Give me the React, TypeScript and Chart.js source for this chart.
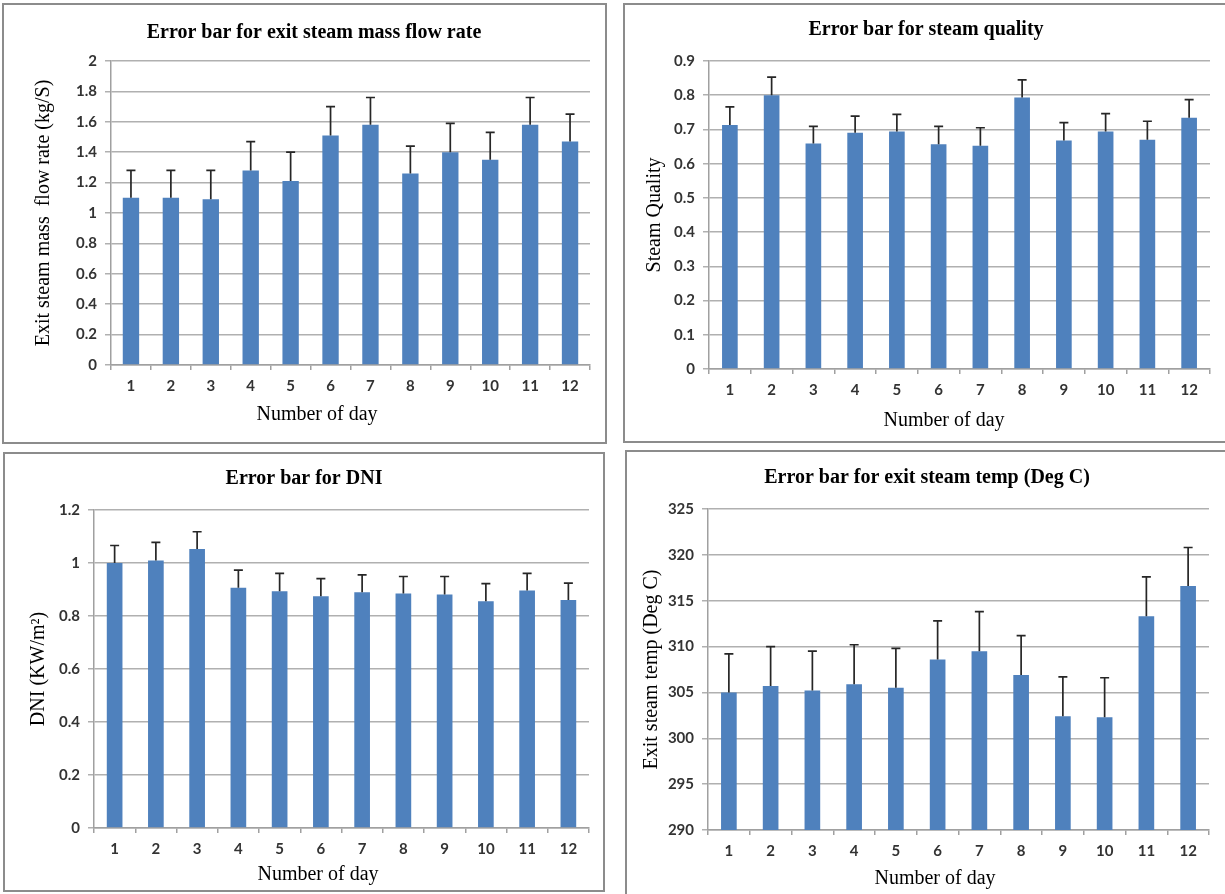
import React, { useEffect, useRef } from "react";
import { Chart, registerables } from "chart.js";

Chart.register(...registerables);

// ---- data -------------------------------------------------------------
const days = ["1", "2", "3", "4", "5", "6", "7", "8", "9", "10", "11", "12"];

const massFlowRate = [1.1, 1.1, 1.09, 1.28, 1.21, 1.51, 1.58, 1.26, 1.4, 1.35, 1.58, 1.47];
const massFlowRateErr = [0.18, 0.18, 0.19, 0.19, 0.19, 0.19, 0.18, 0.18, 0.19, 0.18, 0.18, 0.18];

const steamQuality = [0.713, 0.8, 0.659, 0.69, 0.694, 0.657, 0.652, 0.793, 0.668, 0.694, 0.67, 0.734];
const steamQualityErr = [0.053, 0.053, 0.05, 0.049, 0.05, 0.052, 0.053, 0.052, 0.052, 0.052, 0.054, 0.053];

const dni = [1.0, 1.009, 1.053, 0.907, 0.893, 0.875, 0.89, 0.885, 0.881, 0.856, 0.896, 0.86];
const dniErr = [0.066, 0.069, 0.065, 0.066, 0.068, 0.066, 0.065, 0.064, 0.068, 0.066, 0.065, 0.064];

const exitTemp = [305.0, 305.7, 305.2, 305.9, 305.5, 308.6, 309.5, 306.9, 302.4, 302.3, 313.3, 316.6];
const exitTempErr = [4.2, 4.3, 4.3, 4.3, 4.3, 4.2, 4.3, 4.3, 4.3, 4.3, 4.3, 4.2];

// ---- styling ----------------------------------------------------------
const SERIF = "'Liberation Serif', 'Times New Roman', serif";
const SANS = "Lato, 'Liberation Sans', sans-serif";
const BAR_COLOR = "#4F81BD";
const GRID_COLOR = "#b0b0b0";
const AXIS_COLOR = "#a0a0a0";
const TICK_COLOR = "#333333";

const BORDER = 2;
const LINE_H = 1.2;
const TITLE_SIZE = 20;
const AXIS_TITLE_SIZE = 20;
const TICK_SIZE = 15;

// Draws the upper error whisker with a cap on every bar.
const errorBarsPlugin = {
  id: "errorBars",
  afterDatasetsDraw(chart: any, _args: any, opts: any) {
    const errs: number[] = opts && opts.errors;
    if (!errs) return;
    const meta = chart.getDatasetMeta(0);
    const yScale = chart.scales.y;
    const values = chart.data.datasets[0].data as number[];
    const ctx: CanvasRenderingContext2D = chart.ctx;
    ctx.save();
    ctx.strokeStyle = opts.color || "#262626";
    ctx.lineWidth = opts.lineWidth || 1.5;
    const cap = opts.cap || 4.5;
    meta.data.forEach((bar: any, i: number) => {
      const x = bar.x;
      const yBase = yScale.getPixelForValue(values[i]);
      const yTop = yScale.getPixelForValue(values[i] + errs[i]);
      ctx.beginPath();
      ctx.moveTo(x, yBase);
      ctx.lineTo(x, yTop);
      ctx.moveTo(x - cap, yTop);
      ctx.lineTo(x + cap, yTop);
      ctx.stroke();
    });
    ctx.restore();
  },
};

// Category-axis caption placed under the tick labels.
const axisCaptionPlugin = {
  id: "axisCaption",
  afterDraw(chart: any, _args: any, opts: any) {
    if (!opts || !opts.text) return;
    const ctx: CanvasRenderingContext2D = chart.ctx;
    ctx.save();
    ctx.font = `${opts.size || AXIS_TITLE_SIZE}px ${SERIF}`;
    ctx.fillStyle = "#000";
    ctx.textAlign = "center";
    ctx.textBaseline = "middle";
    ctx.fillText(opts.text, opts.x, opts.y);
    ctx.restore();
  },
};

type Panel = {
  title: string;
  yTitle: string;
  values: number[];
  errors: number[];
  yMin: number;
  yMax: number;
  yStep: number;
  // frame box on the page
  left: number;
  top: number;
  width: number;
  height: number;
  // plot area on the page
  plotLeft: number;
  plotRight: number;
  plotTop: number;
  plotBottom: number;
  titleX: number;
  titleY: number;
  yTitleX: number;
  captionX: number;
  captionY: number;
  barPct: number;
};

const panels: Panel[] = [
  {
    title: "Error bar for exit steam mass flow rate",
    yTitle: "Exit steam mass  flow rate (kg/S)",
    values: massFlowRate,
    errors: massFlowRateErr,
    yMin: 0,
    yMax: 2,
    yStep: 0.2,
    left: 2,
    top: 3,
    width: 605,
    height: 441,
    plotLeft: 111,
    plotRight: 590,
    plotTop: 61,
    plotBottom: 365,
    titleX: 314,
    titleY: 33,
    yTitleX: 44,
    captionX: 317,
    captionY: 415,
    barPct: 0.41,
  },
  {
    title: "Error bar for steam quality",
    yTitle: "Steam Quality",
    values: steamQuality,
    errors: steamQualityErr,
    yMin: 0,
    yMax: 0.9,
    yStep: 0.1,
    left: 623,
    top: 3,
    width: 604,
    height: 440,
    plotLeft: 709,
    plotRight: 1210,
    plotTop: 61,
    plotBottom: 369,
    titleX: 926,
    titleY: 30,
    yTitleX: 655,
    captionX: 944,
    captionY: 421,
    barPct: 0.375,
  },
  {
    title: "Error bar for DNI",
    yTitle: "DNI (KW/m²)",
    values: dni,
    errors: dniErr,
    yMin: 0,
    yMax: 1.2,
    yStep: 0.2,
    left: 3,
    top: 452,
    width: 602,
    height: 440,
    plotLeft: 94,
    plotRight: 589,
    plotTop: 510,
    plotBottom: 828,
    titleX: 304,
    titleY: 479,
    yTitleX: 39,
    captionX: 318,
    captionY: 875,
    barPct: 0.38,
  },
  {
    title: "Error bar for exit steam temp (Deg C)",
    yTitle: "Exit steam temp (Deg C)",
    values: exitTemp,
    errors: exitTempErr,
    yMin: 290,
    yMax: 325,
    yStep: 5,
    left: 625,
    top: 450,
    width: 604,
    height: 450,
    plotLeft: 708,
    plotRight: 1209,
    plotTop: 509,
    plotBottom: 830,
    titleX: 927,
    titleY: 478,
    yTitleX: 652,
    captionX: 935,
    captionY: 879,
    barPct: 0.375,
  },
];

function ErrorBarChart({ p }: { p: Panel }) {
  const ref = useRef<HTMLCanvasElement | null>(null);
  const cx = p.left + BORDER;
  const cy = p.top + BORDER;
  const w = p.width - 2 * BORDER;
  const h = p.height - 2 * BORDER;

  useEffect(() => {
    if (!ref.current) return;
    const lh = TITLE_SIZE * LINE_H;
    const titleTop = p.titleY - cy - lh / 2;
    const titleBottom = p.plotTop - cy - lh - titleTop;
    const padRight = cx + w - p.plotRight;
    // the full-width title is centred between the layout paddings
    const padLeft = Math.max(0, 2 * (p.titleX - cx) - w + padRight);
    const yAxisWidth = p.plotLeft - cx - padLeft;
    const xAxisHeight = cy + h - p.plotBottom;
    const yTitlePad = p.yTitleX - cx - padLeft - (AXIS_TITLE_SIZE * LINE_H) / 2;

    const chart = new Chart(ref.current, {
      type: "bar",
      data: {
        labels: days,
        datasets: [
          {
            data: p.values,
            backgroundColor: BAR_COLOR,
            borderWidth: 0,
            categoryPercentage: 1,
            barPercentage: p.barPct,
          },
        ],
      },
      options: {
        animation: false,
        responsive: false,
        devicePixelRatio: 1,
        events: [],
        layout: { padding: { left: padLeft, right: padRight, top: 0, bottom: 0 } },
        plugins: {
          legend: { display: false },
          tooltip: { enabled: false },
          title: {
            display: true,
            text: p.title,
            color: "#000",
            font: { family: SERIF, size: TITLE_SIZE, weight: "bold", lineHeight: LINE_H },
            padding: { top: titleTop, bottom: titleBottom },
          },
          errorBars: { errors: p.errors, color: "#262626", lineWidth: 1.7, cap: 4.5 },
          axisCaption: { text: "Number of day", x: p.captionX - cx, y: p.captionY - cy, size: AXIS_TITLE_SIZE },
        } as any,
        scales: {
          x: {
            grid: {
              display: true,
              drawOnChartArea: false,
              offset: true,
              tickLength: 5,
              color: AXIS_COLOR,
              lineWidth: 1.5,
            },
            border: { color: AXIS_COLOR, width: 1.5 },
            ticks: {
              color: TICK_COLOR,
              font: { family: SANS, size: TICK_SIZE, weight: "bold" },
              padding: 7,
              maxRotation: 0,
            },
            afterFit: (s: any) => {
              s.height = xAxisHeight;
            },
          },
          y: {
            min: p.yMin,
            max: p.yMax,
            ticks: {
              stepSize: p.yStep,
              color: TICK_COLOR,
              font: { family: SANS, size: TICK_SIZE, weight: "bold" },
              padding: 8,
              callback: (v: any) => String(Number(Number(v).toFixed(2))),
            },
            grid: { color: GRID_COLOR, lineWidth: 1.5, tickLength: 6 },
            border: { color: AXIS_COLOR, width: 1.5 },
            title: {
              display: true,
              text: p.yTitle,
              color: "#000",
              font: { family: SERIF, size: AXIS_TITLE_SIZE, lineHeight: LINE_H },
              padding: { top: yTitlePad, bottom: 0 },
            },
            afterFit: (s: any) => {
              s.width = yAxisWidth;
            },
          },
        },
      },
      plugins: [errorBarsPlugin, axisCaptionPlugin],
    });
    return () => chart.destroy();
  }, [p]);

  return (
    <div
      style={{
        position: "absolute",
        left: p.left,
        top: p.top,
        width: p.width,
        height: p.height,
        boxSizing: "border-box",
        border: `${BORDER}px solid #8c8c8c`,
        background: "#fff",
      }}
    >
      <canvas ref={ref} width={w} height={h} style={{ display: "block", width: w, height: h }} />
    </div>
  );
}

export default function App() {
  return (
    <div
      style={{
        position: "absolute",
        left: 0,
        top: 0,
        width: 1225,
        height: 894,
        overflow: "hidden",
        background: "#fff",
      }}
    >
      {panels.map((p) => (
        <ErrorBarChart key={p.title} p={p} />
      ))}
    </div>
  );
}
